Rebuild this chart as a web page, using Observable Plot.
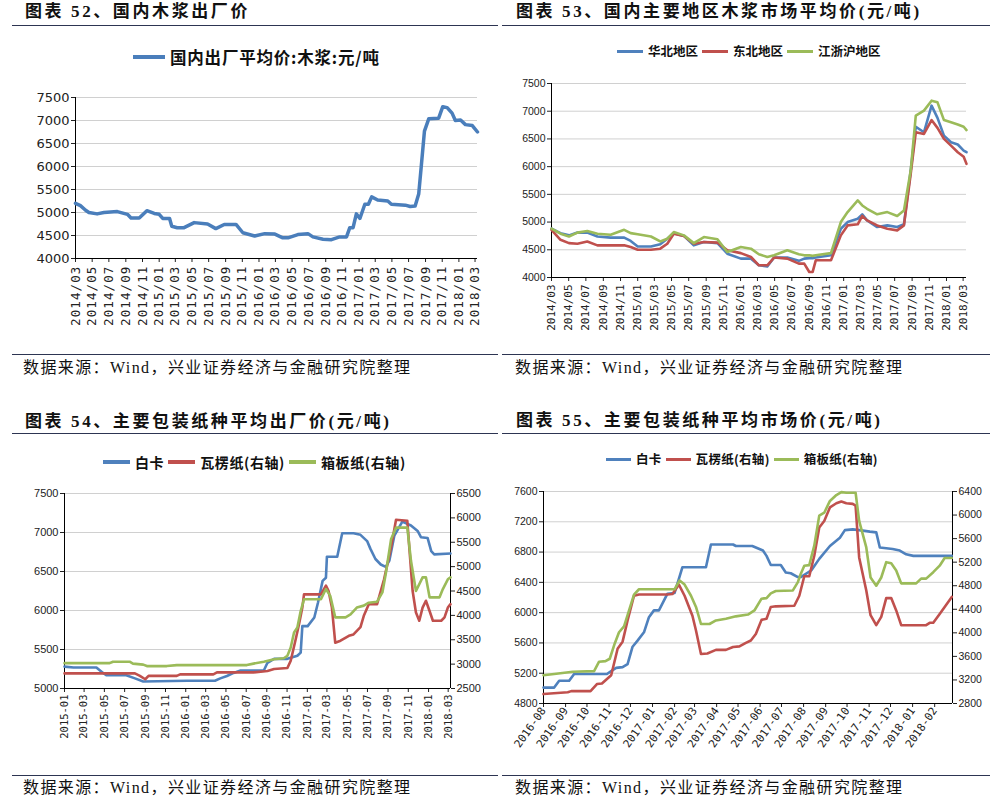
<!DOCTYPE html>
<html><head><meta charset="utf-8">
<script src="https://cdn.jsdelivr.net/npm/d3@7"></script>
<script src="https://cdn.jsdelivr.net/npm/@observablehq/plot@0.6"></script>
<style>
body{margin:0;background:#fff;}
#page{position:relative;width:1002px;height:799px;overflow:hidden;background:#fff;}
.title{position:absolute;font-family:"Liberation Serif","Noto Sans CJK SC";font-weight:bold;font-size:17px;line-height:20px;letter-spacing:2.6px;white-space:nowrap;color:#111;}
.rule{position:absolute;height:0;border-top:1.5px solid #2d3552;}
.src{position:absolute;font-family:"Liberation Serif","Noto Sans CJK SC";font-size:16px;line-height:18px;letter-spacing:1.4px;white-space:nowrap;color:#111;}
.legend{position:absolute;display:flex;align-items:center;white-space:nowrap;font-family:"Noto Sans CJK SC";font-weight:bold;color:#111;}
.legend .sw{display:inline-block;}
svg{position:absolute;overflow:visible;}
svg.c52 g[aria-label="x-axis tick label"] text{letter-spacing:1.1px;}
</style></head>
<body><div id="page"></div>
<script>
// ---------- Chart 52: 国内出厂平均价:木浆 ----------
const pulpDates52 = ["2014-03-01","2014-03-19","2014-04-07","2014-04-19","2014-05-19","2014-06-13","2014-08-01","2014-09-07","2014-09-20","2014-10-20","2014-11-17","2014-12-14","2015-01-01","2015-01-14","2015-02-08","2015-02-16","2015-03-08","2015-04-02","2015-05-09","2015-06-27","2015-07-27","2015-08-27","2015-10-09","2015-11-03","2015-12-16","2016-01-22","2016-02-28","2016-03-28","2016-04-16","2016-05-22","2016-06-28","2016-07-16","2016-08-22","2016-09-22","2016-10-22","2016-11-16","2016-11-28","2016-12-10","2016-12-22","2017-01-04","2017-01-22","2017-02-04","2017-02-16","2017-03-10","2017-04-16","2017-04-29","2017-06-19","2017-07-07","2017-07-25","2017-08-07","2017-08-16","2017-08-28","2017-09-13","2017-10-19","2017-11-03","2017-11-19","2017-12-07","2017-12-19","2018-01-07","2018-01-25","2018-02-19","2018-03-10"];
const pulpValues52 = [5200,5150,5050,5000,4970,5000,5020,4960,4880,4880,5040,4980,4960,4870,4870,4700,4670,4670,4780,4750,4650,4740,4740,4560,4490,4540,4530,4450,4450,4520,4540,4470,4420,4410,4470,4470,4670,4670,4970,4870,5180,5180,5340,5270,5250,5180,5160,5130,5140,5400,5980,6770,7040,7050,7300,7280,7160,7000,7010,6910,6890,6750];
const yTicks52 = [4000,4500,5000,5500,6000,6500,7000,7500];

// ---------- Chart 53: 国内主要地区木浆市场平均价 ----------
const dates53 = ["2014-03-01","2014-04-02","2014-05-02","2014-06-01","2014-07-06","2014-08-11","2014-09-27","2014-11-14","2014-12-07","2015-01-01","2015-02-17","2015-03-22","2015-04-16","2015-05-09","2015-06-14","2015-07-19","2015-08-24","2015-10-11","2015-11-15","2016-01-02","2016-02-07","2016-03-06","2016-04-05","2016-04-29","2016-06-15","2016-07-26","2016-08-14","2016-09-01","2016-09-13","2016-09-24","2016-11-17","2016-12-22","2017-01-15","2017-02-20","2017-03-08","2017-03-25","2017-04-30","2017-06-05","2017-07-10","2017-08-03","2017-08-27","2017-09-14","2017-10-13","2017-11-09","2017-11-30","2017-12-23","2018-01-17","2018-02-10","2018-03-03","2018-03-13"];
const north53 = [4880,4800,4760,4810,4810,4740,4720,4720,4660,4560,4560,4600,4700,4800,4750,4580,4640,4620,4430,4340,4340,4220,4200,4360,4360,4300,4340,4350,4350,4360,4400,4880,5000,5060,5140,5030,4910,4940,4910,4960,5930,6720,6620,7100,6880,6560,6440,6400,6290,6260];
const northeast53 = [4860,4680,4620,4610,4650,4580,4580,4580,4550,4500,4500,4520,4610,4790,4750,4610,4640,4630,4490,4440,4370,4220,4220,4360,4340,4250,4250,4100,4100,4310,4310,4760,4940,4960,5110,5030,4940,4880,4850,4940,5870,6620,6590,6840,6700,6500,6380,6260,6180,6050];
const jzh53 = [4880,4790,4740,4810,4840,4790,4770,4860,4800,4780,4740,4650,4700,4820,4760,4620,4730,4690,4460,4550,4520,4420,4370,4400,4490,4420,4400,4400,4390,4400,4440,5000,5180,5390,5300,5240,5140,5180,5110,5210,5930,6920,7010,7190,7160,6840,6800,6760,6720,6660];
const names53 = ["华北地区","东北地区","江浙沪地区"];
const yTicks53 = [4000,4500,5000,5500,6000,6500,7000,7500];

// ---------- Chart 54: 主要包装纸种平均出厂价 ----------
const whiteDates54 = ["2015-01-01","2015-01-28","2015-04-07","2015-04-27","2015-05-07","2015-07-06","2015-08-01","2015-08-26","2016-01-05","2016-03-29","2016-04-14","2016-05-04","2016-05-24","2016-06-14","2016-08-23","2016-09-03","2016-09-23","2016-11-02","2016-12-02","2016-12-12","2016-12-17","2017-01-02","2017-01-22","2017-02-02","2017-02-16","2017-02-26","2017-03-01","2017-04-01","2017-04-16","2017-05-20","2017-06-10","2017-06-30","2017-07-10","2017-07-25","2017-08-10","2017-08-25","2017-09-05","2017-09-20","2017-10-14","2017-11-09","2017-11-29","2017-12-09","2017-12-29","2018-01-09","2018-01-18","2018-03-08"];
const whiteValues54 = [5280,5270,5270,5200,5170,5170,5130,5090,5100,5100,5130,5160,5200,5230,5230,5330,5380,5380,5420,5460,5800,5800,5910,6100,6380,6420,6690,6690,6990,6990,6970,6890,6790,6660,6590,6560,6640,6960,7140,7090,7020,6940,6930,6760,6720,6730];
const corrDates54 = ["2015-01-01","2015-08-01","2015-08-16","2015-09-01","2015-09-11","2015-12-05","2015-12-15","2016-03-24","2016-04-04","2016-07-23","2016-09-03","2016-09-23","2016-11-02","2016-11-12","2016-11-27","2016-12-07","2016-12-17","2016-12-22","2017-02-11","2017-02-26","2017-03-06","2017-03-16","2017-03-26","2017-04-11","2017-05-06","2017-05-20","2017-06-10","2017-06-20","2017-07-05","2017-07-30","2017-08-20","2017-08-30","2017-09-10","2017-09-25","2017-10-29","2017-11-04","2017-11-14","2017-11-24","2017-12-04","2017-12-14","2017-12-24","2018-01-04","2018-01-14","2018-02-08","2018-02-18","2018-02-28","2018-03-08"];
const corrValues54 = [2810,2810,2760,2690,2760,2760,2790,2790,2830,2830,2860,2900,2920,3070,3510,3820,4160,4430,4430,4610,4500,4160,3440,3480,3580,3610,3760,3990,4230,4230,4740,5050,5390,5960,5940,5390,4500,4060,3890,4160,4300,4090,3890,3890,3960,4160,4230];
const boardDates54 = ["2015-01-01","2015-05-17","2015-05-27","2015-07-16","2015-07-26","2015-08-26","2015-09-06","2015-11-05","2015-12-05","2016-07-03","2016-07-23","2016-08-23","2016-09-23","2016-10-22","2016-11-02","2016-11-12","2016-11-22","2016-12-02","2016-12-12","2016-12-22","2017-02-11","2017-02-26","2017-03-11","2017-03-26","2017-04-26","2017-05-11","2017-05-30","2017-06-20","2017-07-05","2017-07-30","2017-08-15","2017-08-25","2017-09-10","2017-09-25","2017-10-29","2017-11-09","2017-11-24","2017-12-14","2017-12-24","2018-01-04","2018-02-03","2018-02-13","2018-02-28","2018-03-08"];
const boardValues54 = [3020,3020,3050,3050,3010,2990,2960,2960,2980,2980,3010,3050,3100,3120,3170,3340,3650,3750,4090,4330,4330,4540,4400,3960,3960,4020,4160,4200,4260,4280,4470,4850,5560,5800,5800,5120,4500,4780,4780,4370,4370,4540,4740,4780];
const leftTicks54 = [5000,5500,6000,6500,7000,7500];
const rightTicks54 = [2500,3000,3500,4000,4500,5000,5500,6000,6500];

// ---------- Chart 55: 主要包装纸种平均市场价 ----------
const whiteDates55 = ["2016-08-01","2016-08-16","2016-08-23","2016-09-06","2016-09-13","2016-10-29","2016-11-06","2016-11-11","2016-11-20","2016-11-27","2016-12-04","2016-12-11","2016-12-20","2016-12-27","2017-01-03","2017-01-10","2017-01-22","2017-02-01","2017-02-12","2017-03-17","2017-03-24","2017-04-24","2017-04-28","2017-05-21","2017-06-05","2017-06-10","2017-06-16","2017-06-30","2017-07-07","2017-07-14","2017-07-24","2017-07-28","2017-08-12","2017-08-23","2017-09-07","2017-09-21","2017-09-28","2017-10-09","2017-10-18","2017-11-02","2017-11-11","2017-11-16","2017-12-04","2017-12-14","2017-12-23","2018-01-02","2018-02-25"];
const whiteValues55 = [5010,5010,5100,5100,5190,5190,5240,5270,5280,5320,5550,5630,5740,5940,6030,6030,6250,6260,6600,6600,6900,6900,6880,6880,6820,6750,6630,6630,6530,6520,6470,6470,6560,6710,6880,6990,7090,7100,7090,7070,7060,6860,6840,6820,6770,6750,6750];
const corrDates55 = ["2016-08-01","2016-09-04","2016-09-09","2016-10-06","2016-10-15","2016-10-22","2016-11-04","2016-11-13","2016-11-20","2016-11-27","2016-12-06","2016-12-13","2017-01-22","2017-01-29","2017-02-07","2017-02-15","2017-02-26","2017-03-03","2017-03-10","2017-03-19","2017-03-31","2017-04-14","2017-04-24","2017-05-03","2017-05-12","2017-05-19","2017-05-26","2017-06-03","2017-06-10","2017-06-16","2017-06-23","2017-07-19","2017-07-26","2017-08-02","2017-08-09","2017-08-16","2017-08-23","2017-08-30","2017-09-07","2017-09-16","2017-09-23","2017-09-30","2017-10-09","2017-10-13","2017-10-18","2017-10-28","2017-11-03","2017-11-11","2017-11-18","2017-11-25","2017-12-02","2017-12-09","2017-12-16","2018-01-20","2018-01-25","2018-01-30","2018-02-08","2018-02-18","2018-02-25"];
const corrValues55 = [2960,2990,3010,3010,3130,3140,3280,3730,3850,4210,4630,4650,4650,4660,4820,4630,4290,4040,3640,3650,3710,3710,3760,3770,3830,3870,3980,4220,4240,4440,4450,4460,4630,4960,4960,5310,5790,5900,6130,6200,6230,6200,6190,6160,5280,4720,4300,4130,4270,4590,4590,4380,4130,4130,4170,4170,4320,4490,4610];
const boardDates55 = ["2016-08-01","2016-08-16","2016-09-11","2016-10-11","2016-10-18","2016-10-27","2016-11-02","2016-11-09","2016-11-15","2016-11-22","2016-11-27","2016-12-06","2016-12-13","2017-02-01","2017-02-08","2017-02-15","2017-02-24","2017-03-03","2017-03-10","2017-03-22","2017-03-31","2017-04-14","2017-04-28","2017-05-15","2017-05-24","2017-06-03","2017-06-10","2017-06-16","2017-06-23","2017-07-17","2017-07-24","2017-07-28","2017-08-02","2017-08-09","2017-08-16","2017-08-23","2017-08-30","2017-09-07","2017-09-16","2017-09-23","2017-09-30","2017-10-13","2017-10-18","2017-10-28","2017-11-03","2017-11-11","2017-11-18","2017-11-25","2017-12-02","2017-12-09","2017-12-16","2018-01-06","2018-01-13","2018-01-20","2018-01-30","2018-02-08","2018-02-15","2018-02-25"];
const boardValues55 = [3280,3300,3340,3350,3510,3520,3560,3820,4010,4110,4300,4650,4740,4740,4890,4820,4630,4440,4150,4150,4210,4240,4280,4310,4380,4580,4590,4670,4710,4720,4860,5000,5140,5150,5480,5990,6040,6240,6340,6390,6380,6380,5900,5450,4940,4800,4940,5200,5180,5060,4840,4840,4920,4920,5030,5140,5270,5270];
const leftTicks55 = [4800,5200,5600,6000,6400,6800,7200,7600];
const rightTicks55 = [2800,3200,3600,4000,4400,4800,5200,5600,6000,6400];

const paperNames = ["白卡","瓦楞纸(右轴)","箱板纸(右轴)"];
const BLUE = "#4f81bd", RED = "#c0504d", GREEN = "#9bbb59";

// ---------- helpers ----------
const page = document.getElementById("page");
const D = s => new Date(s);
const rows = (dates, values) => dates.map((d, i) => ({date: D(d), value: values[i]}));
const plain = d3.format("d");
function add(html){ page.insertAdjacentHTML("beforeend", html); }
function place(svg, left, top, cls){ svg.style.left = left + "px"; svg.style.top = top + "px"; if (cls) svg.classList.add(cls); page.appendChild(svg); }
function legend(left, top, size, swW, swH, items, ls){
  let h = `<div class="legend" style="left:${left}px;top:${top}px;font-size:${size}px;line-height:${size+4}px;letter-spacing:${ls||0}px">`;
  items.forEach(([c, t], i) => {
    h += `<span class="sw" style="width:${swW}px;height:${swH}px;background:${c};margin-right:5px;margin-left:${i?4:0}px"></span><span>${t}</span>`;
  });
  add(h + "</div>");
}

// ---------- static texts ----------
add(`<div class="title" style="left:25px;top:2px">图表 52、国内木浆出厂价</div>`);
add(`<div class="title" style="left:516px;top:2px">图表 53、国内主要地区木浆市场平均价(元/吨)</div>`);
add(`<div class="title" style="left:25px;top:412px">图表 54、主要包装纸种平均出厂价(元/吨)</div>`);
add(`<div class="title" style="left:516px;top:411px">图表 55、主要包装纸种平均市场价(元/吨)</div>`);
add(`<div class="rule" style="left:12px;top:25px;width:486px"></div>`);
add(`<div class="rule" style="left:502px;top:25px;width:488px"></div>`);
add(`<div class="rule" style="left:12px;top:433px;width:486px"></div>`);
add(`<div class="rule" style="left:502px;top:433px;width:488px"></div>`);
add(`<div class="rule" style="left:12px;top:354px;width:486px;border-top-width:1px"></div>`);
add(`<div class="rule" style="left:502px;top:354px;width:488px;border-top-width:1px"></div>`);
add(`<div class="rule" style="left:12px;top:775px;width:486px;border-top-width:1px"></div>`);
add(`<div class="rule" style="left:502px;top:775px;width:488px;border-top-width:1px"></div>`);
const srcText = "数据来源：Wind，兴业证券经济与金融研究院整理";
add(`<div class="src" style="left:23px;top:359px">${srcText}</div>`);
add(`<div class="src" style="left:515px;top:359px">${srcText}</div>`);
add(`<div class="src" style="left:23px;top:779px">${srcText}</div>`);
add(`<div class="src" style="left:515px;top:779px">${srcText}</div>`);

legend(133, 47, 16.5, 32, 4, [["#4a7ebb", "国内出厂平均价:木浆:元/吨"]], 0.8);
legend(617, 43, 12.5, 26, 3, [[BLUE, names53[0]], [RED, names53[1]], [GREEN, names53[2]]]);
legend(103, 453, 14, 27, 3.5, [[BLUE, paperNames[0]], [RED, paperNames[1]], [GREEN, paperNames[2]]], 0.6);
legend(606, 451, 12.5, 25, 3, [[BLUE, paperNames[0]], [RED, paperNames[1]], [GREEN, paperNames[2]]], 0.3);

const baseStyle = {background: "transparent", color: "#222", overflow: "visible"};

// ---------- Chart 52 ----------
{
  const xd = [D("2014-03-01"), D("2018-03-10")];
  const svg = Plot.plot({
    width: 500, height: 270, marginLeft: 75, marginRight: 23, marginTop: 12, marginBottom: 97,
    x: {type: "utc", domain: xd}, y: {domain: [4000, 7500]},
    style: {...baseStyle, fontFamily: "DejaVu Sans", fontSize: "13px"},
    marks: [
      Plot.gridY(yTicks52, {stroke: "#d0d0d0", strokeOpacity: 1}),
      Plot.axisY(yTicks52, {tickSize: 4, tickPadding: 2, fontSize: 13, tickFormat: plain, label: null}),
      Plot.axisX(d3.utcMonths(D("2014-03-01"), D("2018-03-02"), 2), {tickSize: 4, tickPadding: 3, tickRotate: -90, tickFormat: d3.utcFormat("%Y/%m"), fontFamily: "DejaVu Sans Mono", fontSize: 12.5, label: null}),
      Plot.ruleX([xd[0]], {stroke: "#000"}),
      Plot.ruleY([4000], {stroke: "#000"}),
      Plot.line(rows(pulpDates52, pulpValues52), {x: "date", y: "value", stroke: "#4a7ebb", strokeWidth: 3.5})
    ]
  });
  place(svg, 0, 85, "c52");
}

// ---------- Chart 53 ----------
{
  const xd = [D("2014-03-01"), D("2018-03-13")];
  const data = [north53, northeast53, jzh53].flatMap((vals, k) => dates53.map((d, i) => ({date: D(d), value: vals[i], s: names53[k]})));
  const svg = Plot.plot({
    width: 500, height: 280, marginLeft: 51, marginRight: 34, marginTop: 13, marginBottom: 73,
    x: {type: "utc", domain: xd}, y: {domain: [4000, 7500]},
    color: {domain: names53, range: [BLUE, RED, GREEN]},
    style: {...baseStyle, fontFamily: "Liberation Sans", fontSize: "10.5px"},
    marks: [
      Plot.gridY(yTicks53, {stroke: "#d0d0d0", strokeOpacity: 1}),
      Plot.axisY(yTicks53, {tickSize: 4, tickPadding: 2, tickFormat: plain, label: null}),
      Plot.axisX(d3.utcMonths(D("2014-03-01"), D("2018-03-02"), 2), {tickSize: 4, tickPadding: 3, tickRotate: -90, tickFormat: d3.utcFormat("%Y/%m"), fontFamily: "DejaVu Sans Mono", fontSize: 11, label: null}),
      Plot.ruleX([xd[0]], {stroke: "#000"}),
      Plot.ruleY([4000], {stroke: "#000"}),
      Plot.line(data, {x: "date", y: "value", z: "s", stroke: "s", strokeWidth: 2.6})
    ]
  });
  place(svg, 500, 70);
}

// ---------- Chart 54 ----------
{
  const xd = [D("2015-01-01"), D("2018-03-08")];
  const toL = v => 5000 + (v - 2500) * 2500 / 4000;
  const fromL = v => String(Math.round((v - 5000) * 4000 / 2500 + 2500));
  const svg = Plot.plot({
    width: 500, height: 275, marginLeft: 64, marginRight: 50, marginTop: 13, marginBottom: 67,
    x: {type: "utc", domain: xd}, y: {domain: [5000, 7500]},
    style: {...baseStyle, fontFamily: "Liberation Sans", fontSize: "11px"},
    marks: [
      Plot.gridY(leftTicks54, {stroke: "#d0d0d0", strokeOpacity: 1}),
      Plot.axisY(leftTicks54, {tickSize: 4, tickPadding: 2, tickFormat: plain, label: null}),
      Plot.axisY(rightTicks54.map(toL), {anchor: "right", tickSize: 4, tickPadding: 2, tickFormat: fromL, label: null}),
      Plot.axisX(d3.utcMonths(D("2015-01-01"), D("2018-03-02"), 2), {tickSize: 4, tickPadding: 2, tickRotate: -90, tickFormat: d3.utcFormat("%Y-%m"), fontFamily: "DejaVu Sans Mono", fontSize: 10.5, label: null}),
      Plot.ruleX([xd[0], xd[1]], {stroke: "#000"}),
      Plot.ruleY([5000], {stroke: "#000"}),
      Plot.line(rows(whiteDates54, whiteValues54), {x: "date", y: "value", stroke: BLUE, strokeWidth: 2.6}),
      Plot.line(rows(corrDates54, corrValues54), {x: "date", y: d => toL(d.value), stroke: RED, strokeWidth: 2.6}),
      Plot.line(rows(boardDates54, boardValues54), {x: "date", y: d => toL(d.value), stroke: GREEN, strokeWidth: 2.6})
    ]
  });
  place(svg, 0, 480);
}

// ---------- Chart 55 ----------
{
  const xd = [D("2016-08-01"), D("2018-02-26")];
  const toL = v => 4800 + (v - 2800) * 2800 / 3600;
  const fromL = v => String(Math.round((v - 4800) * 3600 / 2800 + 2800));
  const svg = Plot.plot({
    width: 500, height: 300, marginLeft: 43, marginRight: 48, marginTop: 13, marginBottom: 75,
    x: {type: "utc", domain: xd}, y: {domain: [4800, 7600]},
    style: {...baseStyle, fontFamily: "Liberation Sans", fontSize: "10.5px"},
    marks: [
      Plot.gridY(leftTicks55, {stroke: "#d0d0d0", strokeOpacity: 1}),
      Plot.axisY(leftTicks55, {tickSize: 4, tickPadding: 2, tickFormat: plain, label: null}),
      Plot.axisY(rightTicks55.map(toL), {anchor: "right", tickSize: 4, tickPadding: 2, tickFormat: fromL, label: null}),
      Plot.axisX(d3.utcMonths(D("2016-08-01"), D("2018-02-02")), {tickSize: 4, tickPadding: 1, tickRotate: -55, tickFormat: d3.utcFormat("%Y-%m"), fontFamily: "DejaVu Sans Mono", fontSize: 11, label: null}),
      Plot.ruleX([xd[0], xd[1]], {stroke: "#000"}),
      Plot.ruleY([4800], {stroke: "#000"}),
      Plot.line(rows(whiteDates55, whiteValues55), {x: "date", y: "value", stroke: BLUE, strokeWidth: 2.6}),
      Plot.line(rows(corrDates55, corrValues55), {x: "date", y: d => toL(d.value), stroke: RED, strokeWidth: 2.6}),
      Plot.line(rows(boardDates55, boardValues55), {x: "date", y: d => toL(d.value), stroke: GREEN, strokeWidth: 2.6})
    ]
  });
  place(svg, 500, 478);
}
</script>
</body></html>
